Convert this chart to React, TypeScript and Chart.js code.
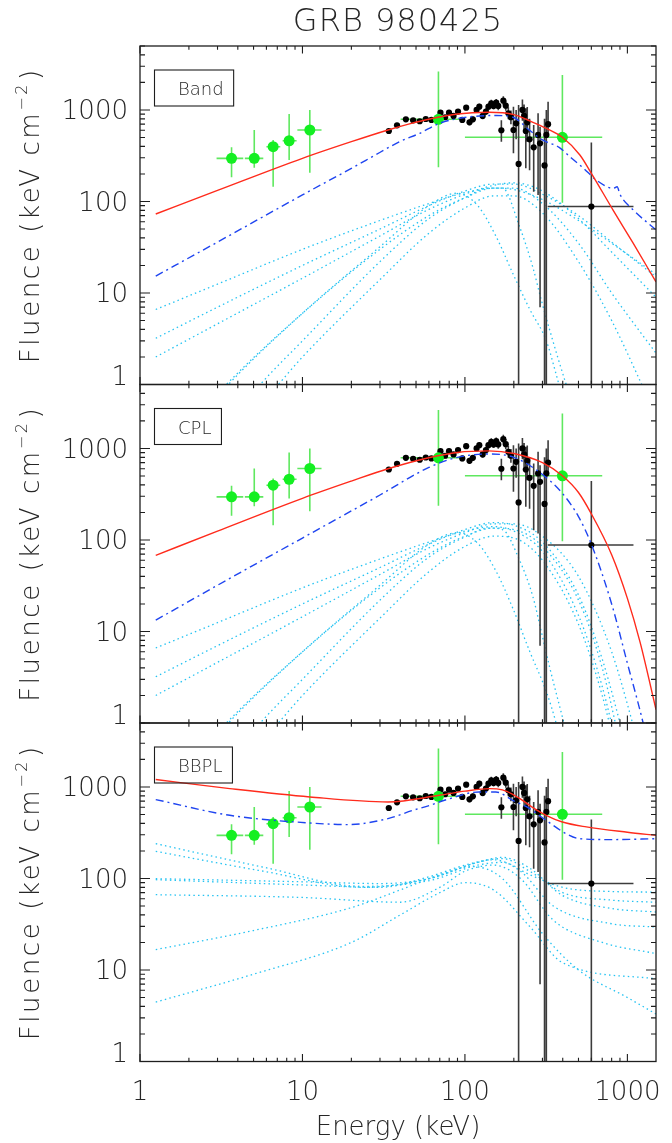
import { useEffect, useRef } from 'react';
import { Chart, registerables } from 'chart.js';

Chart.register(...registerables);

type Pt = [number, number];

// ---- canvas / frame geometry ----
const W = 672;
const H = 1143;
const PLOT_LEFT = 140;
const PLOT_RIGHT = 656;
const PANEL_TOPS = [46, 384.5, 723];
const PANEL_H = 338.5;
const X_MIN = 1;
const X_MAX = 1500;
const Y_MIN = 1;
const Y_MAX = 5000;
const FONT = '"DejaVu Sans", "Liberation Sans", sans-serif';
const TEXT = '#262626';

// ---- axis text ----
const chartTitle = 'GRB 980425';
const xTitle = 'Energy (keV)';
const yTitleMain = 'Fluence (keV cm';
const yTitleSup = '\u22122';
const yTitleEnd = ')';
const xTickValues = [1, 10, 100, 1000];
const xTickLabels = ['1', '10', '100', '1000'];
const yTickValues = [1, 10, 100, 1000];
const yTickLabels = ['1', '10', '100', '1000'];
const panelNames = ['Band', 'CPL', 'BBPL'];

// ---- observed fluence points (green) ----
const greenE = [3.66, 5.05, 6.6, 8.28, 11.1, 68.7, 398];
const greenELo = [2.96, 4.42, 6.0, 7.55, 9.3, 40.2, 100];
const greenEHi = [4.32, 5.74, 7.3, 9.2, 13.1, 97.4, 700];
const greenF = [296, 296, 397, 461, 604, 791, 503];
const greenFLo = [184, 234, 145, 284, 206, 236, 97];
const greenFHi = [391, 604, 470, 904, 1000, 2624, 2414];

// ---- observed fluence points (black) ----
const blackE = [34.0, 38.2, 43.3, 48.0, 52.7, 57.4, 62.2, 70.7, 75.5, 79.8, 85.1, 90.7, 96.3, 101.8, 106.7, 111.9, 118, 122.6, 128.6, 134.7, 139.6, 145.3, 150.1, 155.8, 160.4, 167.6, 172.3, 178.4, 185, 191.9, 198.9, 206.6, 214, 225.9, 231.3, 237, 241.9, 250, 265, 282, 290, 309, 317, 325, 600];
const blackF = [589, 680, 791, 770, 753, 797, 778, 935, 832, 935, 860, 960, 778, 1060, 733, 791, 1000, 1087, 860, 960, 1087, 1183, 1106, 1200, 1106, 600, 1264, 1114, 920, 832, 604, 715, 257, 1000, 860, 589, 733, 478, 391, 533, 432, 248, 533, 700, 88];
const blackFLo = [560, 650, 760, 738, 720, 760, 740, 880, 785, 885, 812, 905, 725, 995, 680, 735, 930, 1010, 790, 880, 1000, 1085, 1010, 1090, 990, 450, 1130, 980, 790, 700, 336, 480, 0.3, 760, 620, 230, 450, 220, 128, 118, 7, 0.3, 0.3, 510, 0.3];
const blackFHi = [620, 712, 825, 803, 790, 835, 818, 995, 880, 990, 912, 1020, 835, 1130, 790, 850, 1075, 1170, 935, 1045, 1180, 1290, 1210, 1320, 1235, 770, 1410, 1265, 1070, 985, 1087, 1000, 1134, 1300, 1150, 1043, 1080, 800, 686, 920, 657, 800, 1000, 1233, 440];
// energy bins drawn for a subset of the black points
const binE = [34.0, 38.2, 43.3, 48.0, 52.7, 57.4, 62.2, 600];
const binF = [589, 680, 791, 770, 753, 797, 778, 88];
const binLo = [32.6, 36.7, 41.6, 46.1, 50.6, 55.1, 59.7, 323];
const binHi = [35.4, 39.7, 45.0, 49.9, 54.8, 59.7, 64.7, 1090];

// ---- Band fits ----
const bandTotal: Pt[] = [[1.25, 73], [3, 132], [10, 296], [20, 450], [33.6, 604], [45, 700], [60.8, 797], [90, 905], [140, 944], [200, 890], [250, 760], [317, 630], [398, 503], [510, 322], [600, 203], [818, 80], [1085, 35], [1500, 13.2]];
const bandSum: Pt[] = [[1.25, 15.3], [3, 36], [10, 118], [20, 230], [29.9, 343], [39.6, 450], [52.7, 556], [69.7, 715], [92.6, 811], [123, 860], [156, 870], [198, 832], [250, 600], [300, 470], [380, 390], [450, 300], [530, 236], [645, 171], [818, 139], [865, 145], [900, 120], [1085, 81], [1500, 49]];
const bandSlices: Pt[][] = [
  [[1.25, 6.6], [3, 12.5], [10, 30], [30, 62], [60, 95], [100, 125], [150, 140], [200, 135], [300, 105], [500, 62], [800, 35], [1500, 16]],
  [[1.25, 3.2], [3, 7], [10, 20], [30, 50], [60, 90], [100, 130], [150, 155], [200, 155], [300, 120], [500, 70], [800, 36], [1500, 15]],
  [[1.25, 2.0], [3, 4.6], [10, 14.5], [30, 42], [60, 82], [100, 120], [150, 150], [200, 160], [300, 130], [500, 65], [800, 28], [1500, 9]],
  [[2.4, 0.5], [3.4, 1], [10, 6], [30, 30], [60, 70], [100, 110], [150, 140], [200, 140], [300, 95], [500, 35], [800, 10], [1500, 2.2]],
  [[5, 0.5], [7.1, 1], [10, 2], [30, 14], [60, 45], [100, 85], [150, 115], [200, 115], [300, 75], [500, 22], [800, 5], [1300, 0.8]],
  [[2.5, 0.5], [3.5, 1], [10, 6], [30, 32], [60, 90], [89, 123], [120, 90], [156, 41], [197, 16.4], [251, 6.6], [317, 3], [364, 1.3], [400, 0.7]],
  [[4, 0.5], [5.5, 1], [10, 3], [30, 22], [60, 65], [100, 110], [140, 140], [170, 140], [217, 53], [262, 19], [295, 8.4], [333, 3.9], [420, 1], [480, 0.5]],
];

// ---- CPL fits ----
const cplTotal: Pt[] = [[1.25, 68], [3, 125], [10, 285], [20, 440], [33.6, 600], [60.8, 797], [90, 905], [140, 940], [200, 880], [300, 700], [398, 503], [500, 330], [600, 193], [800, 69], [1000, 23], [1200, 7.5], [1500, 1.4]];
const cplSum: Pt[] = [[1.25, 13.3], [3, 32], [10, 105], [30, 310], [60, 620], [90, 800], [140, 870], [200, 800], [300, 520], [400, 320], [500, 180], [600, 90], [800, 20], [1000, 4.5], [1250, 1], [1400, 0.4]];
const cplSlices: Pt[][] = [
  [[1.25, 6.6], [3, 12.5], [10, 30], [30, 62], [60, 95], [100, 125], [150, 140], [200, 125], [300, 75], [500, 15], [700, 2.5], [900, 0.4]],
  [[1.25, 3.2], [3, 7], [10, 20], [30, 50], [60, 90], [100, 130], [150, 155], [200, 145], [300, 95], [500, 25], [700, 5], [1000, 0.5]],
  [[1.25, 2.0], [3, 4.6], [10, 14.5], [30, 42], [60, 82], [100, 120], [150, 150], [200, 150], [300, 110], [500, 40], [800, 6], [1200, 0.5]],
  [[2.4, 0.5], [3.4, 1], [10, 6], [30, 30], [60, 70], [100, 110], [150, 135], [200, 130], [300, 85], [500, 22], [700, 4], [900, 0.6]],
  [[5, 0.5], [7.1, 1], [10, 2], [30, 14], [60, 45], [100, 85], [150, 110], [200, 105], [300, 60], [500, 12], [700, 2], [850, 0.5]],
  [[2.5, 0.5], [3.5, 1], [10, 6], [30, 32], [60, 90], [89, 120], [120, 92], [156, 45], [197, 18], [251, 6], [317, 2.2], [364, 1], [400, 0.5]],
  [[4, 0.5], [5.5, 1], [10, 3], [30, 22], [60, 65], [100, 108], [140, 135], [170, 130], [217, 60], [262, 24], [295, 10], [333, 4], [420, 0.8], [480, 0.3]],
];

// ---- BBPL fits ----
const bbplTotal: Pt[] = [[1.25, 1205], [3.57, 960], [11.1, 778], [33.6, 686], [69.7, 811], [100, 900], [142, 960], [170, 930], [197, 832], [218, 746], [262, 595], [316, 490], [398, 414], [559, 366], [1000, 320], [1500, 296]];
const bbplSum: Pt[] = [[1.25, 728], [3.57, 490], [11.1, 404], [19, 388], [33.6, 451], [47.9, 556], [60.8, 630], [77.2, 728], [122, 882], [155, 882], [197, 715], [250, 580], [316, 432], [418, 310], [508, 272], [818, 266], [1500, 272]];
const bbplSlices: Pt[][] = [
  [[1.25, 240], [5.74, 133], [23.6, 82], [60.8, 95], [120, 140], [170, 150], [250, 110], [400, 80], [800, 72], [1500, 71]],
  [[1.25, 198], [5.74, 120], [23.6, 80], [60.8, 100], [120, 150], [170, 165], [250, 120], [400, 70], [800, 58], [1500, 55]],
  [[1.25, 99.5], [10, 92], [30, 88], [60.8, 100], [120, 150], [170, 170], [250, 130], [400, 65], [800, 47], [1500, 43]],
  [[1.25, 97], [10, 85], [30, 80], [60.8, 105], [100, 140], [150, 160], [220, 120], [350, 50], [800, 32], [1500, 29.5]],
  [[1.25, 66.5], [10, 62], [40, 55], [70, 80], [100, 120], [150, 140], [220, 100], [350, 35], [700, 20], [1500, 15.1]],
  [[1.25, 16.7], [5, 27], [20, 48], [40, 75], [70, 110], [110, 135], [170, 100], [300, 25], [500, 10], [1000, 5], [1500, 3.3]],
  [[1.25, 4.46], [5, 9], [20, 20], [40, 40], [70, 70], [100, 90], [150, 75], [250, 30], [400, 12], [1500, 8]],
];

const panels = [
  { name: panelNames[0], total: bandTotal, sum: bandSum, slices: bandSlices },
  { name: panelNames[1], total: cplTotal, sum: cplSum, slices: cplSlices },
  { name: panelNames[2], total: bbplTotal, sum: bbplSum, slices: bbplSlices },
];

// ---- colours ----
const RED = '#ff2b1c';
const BLUE = '#1f45f0';
const CYAN = '#25c3f2';
const GREEN_DOT = '#14ef22';
const GREEN_BAR = '#5fe85f';
const BLACK_DOT = '#000000';
const BLACK_BAR = '#3c3c3c';

type XY = { x: number; y: number | null };

function toXY(pts: Pt[]): XY[] {
  return pts.map(([x, y]) => ({ x, y }));
}

// vertical bars as gap-separated segments
function vBars(e: number[], lo: number[], hi: number[]): XY[] {
  const out: XY[] = [];
  e.forEach((x, i) => {
    out.push({ x, y: lo[i] }, { x, y: hi[i] }, { x, y: null });
  });
  return out;
}

// horizontal bars as gap-separated segments
function hBars(f: number[], lo: number[], hi: number[]): XY[] {
  const out: XY[] = [];
  f.forEach((y, i) => {
    out.push({ x: lo[i], y }, { x: hi[i], y }, { x: hi[i], y: null });
  });
  return out;
}

function lineSet(data: XY[], color: string, width: number, dash: number[], order: number, smooth: boolean) {
  return {
    type: 'line' as const,
    data,
    borderColor: color,
    backgroundColor: color,
    borderWidth: width,
    borderDash: dash,
    borderCapStyle: 'butt' as const,
    pointRadius: 0,
    pointHoverRadius: 0,
    fill: false,
    spanGaps: false,
    showLine: true,
    cubicInterpolationMode: smooth ? ('monotone' as const) : ('default' as const),
    tension: 0,
    order,
  };
}

function pointSet(data: XY[], color: string, radius: number, order: number) {
  return {
    type: 'line' as const,
    data,
    showLine: false,
    pointRadius: radius,
    pointHoverRadius: radius,
    pointBackgroundColor: color,
    pointBorderColor: color,
    pointBorderWidth: 0,
    borderColor: color,
    backgroundColor: color,
    order,
  };
}

function buildDatasets(p: (typeof panels)[number]) {
  const sets: any[] = [];
  sets.push(lineSet(toXY(p.total), RED, 1.4, [], 0, true));
  sets.push(lineSet(toXY(p.sum), BLUE, 1.4, [8, 4, 2, 4], 1, true));
  sets.push(pointSet(greenE.map((x, i) => ({ x, y: greenF[i] })), GREEN_DOT, 5.5, 2));
  sets.push(pointSet(blackE.map((x, i) => ({ x, y: blackF[i] })), BLACK_DOT, 3.1, 3));
  sets.push(lineSet(vBars(blackE, blackFLo, blackFHi), BLACK_BAR, 1.6, [], 4, false));
  sets.push(lineSet(hBars(binF, binLo, binHi), BLACK_BAR, 1.6, [], 4, false));
  sets.push(lineSet(vBars(greenE, greenFLo, greenFHi), GREEN_BAR, 1.6, [], 5, false));
  sets.push(lineSet(hBars(greenF, greenELo, greenEHi), GREEN_BAR, 1.6, [], 5, false));
  p.slices.forEach((s) => sets.push(lineSet(toXY(s), CYAN, 1.3, [1.5, 3.2], 6, true)));
  return sets;
}

// Frame, inward ticks and all axis text in the IDL style
const frameAxes = {
  id: 'frameAxes',
  afterDraw(chart: any, _args: any, opts: any) {
    const { ctx, chartArea: a, scales } = chart;
    const xs = scales.x;
    const ys = scales.y;
    ctx.save();
    ctx.strokeStyle = '#1e1e1e';
    ctx.lineWidth = 1.3;
    ctx.strokeRect(a.left, a.top, a.right - a.left, a.bottom - a.top);

    ctx.lineWidth = 1.1;
    ctx.beginPath();
    for (let d = 0; d <= 3; d++) {
      for (let k = 1; k <= 9; k++) {
        const v = k * Math.pow(10, d);
        if (v < Y_MIN || v > Y_MAX) continue;
        const py = ys.getPixelForValue(v);
        const len = k === 1 ? 10 : 5;
        ctx.moveTo(a.left, py);
        ctx.lineTo(a.left + len, py);
        ctx.moveTo(a.right, py);
        ctx.lineTo(a.right - len, py);
      }
    }
    for (let d = 0; d <= 3; d++) {
      for (let k = 1; k <= 9; k++) {
        const v = k * Math.pow(10, d);
        if (v < X_MIN || v > X_MAX) continue;
        const px = xs.getPixelForValue(v);
        const len = k === 1 ? 7.5 : 3.8;
        ctx.moveTo(px, a.bottom);
        ctx.lineTo(px, a.bottom - len);
        ctx.moveTo(px, a.top);
        ctx.lineTo(px, a.top + len);
      }
    }
    ctx.stroke();

    ctx.fillStyle = TEXT;
    const tickFont = `200 26px ${FONT}`;
    ctx.font = tickFont;
    ctx.textAlign = 'right';
    ctx.textBaseline = 'alphabetic';
    yTickValues.forEach((v, i) => {
      const py = ys.getPixelForValue(v);
      const base = v === Y_MIN ? py + 0.5 : py + 9.5;
      ctx.fillText(yTickLabels[i], PLOT_LEFT - 12, base);
    });

    // rotated y title with a raised exponent
    const cy = (a.top + a.bottom) / 2;
    ctx.save();
    ctx.translate(38.5, cy);
    ctx.rotate(-Math.PI / 2);
    ctx.textAlign = 'left';
    ctx.letterSpacing = '2.6px';
    ctx.font = `200 26px ${FONT}`;
    const w1 = ctx.measureText(yTitleMain).width;
    ctx.font = `200 16px ${FONT}`;
    const w2 = ctx.measureText(yTitleSup).width;
    ctx.font = `200 26px ${FONT}`;
    const w3 = ctx.measureText(yTitleEnd).width;
    const total = w1 + w2 + 2 + w3;
    let x0 = -total / 2;
    ctx.fillText(yTitleMain, x0, 0);
    x0 += w1;
    ctx.font = `200 16px ${FONT}`;
    ctx.fillText(yTitleSup, x0, -12);
    x0 += w2 + 2;
    ctx.font = `200 26px ${FONT}`;
    ctx.fillText(yTitleEnd, x0, 0);
    ctx.restore();

    // model label box
    ctx.font = `200 18px ${FONT}`;
    ctx.textAlign = 'left';
    const tw = ctx.measureText(opts.label).width;
    const bx = a.left + 14.5;
    const by = a.top + 24;
    ctx.lineWidth = 1.1;
    ctx.strokeStyle = '#1e1e1e';
    ctx.strokeRect(bx, by, 178 - bx + tw + 10, 36);
    ctx.fillText(opts.label, 178, a.top + 49);

    if (opts.showTitle) {
      ctx.save();
      ctx.letterSpacing = '1px';
      ctx.font = `200 32px ${FONT}`;
      ctx.textAlign = 'center';
      ctx.fillText(chartTitle, (a.left + a.right) / 2, 31);
      ctx.restore();
    }
    if (opts.showX) {
      ctx.font = tickFont;
      ctx.textAlign = 'center';
      xTickValues.forEach((v, i) => {
        ctx.fillText(xTickLabels[i], xs.getPixelForValue(v), a.bottom + 38.5);
      });
      ctx.fillText(xTitle, (a.left + a.right) / 2, a.bottom + 73.5);
    }
    ctx.restore();
  },
};

function Panel({ index }: { index: number }) {
  const ref = useRef<HTMLCanvasElement | null>(null);
  useEffect(() => {
    const canvas = ref.current;
    if (!canvas) return;
    const p = panels[index];
    const top = PANEL_TOPS[index];
    const chart = new Chart(canvas, {
      type: 'line',
      data: { datasets: buildDatasets(p) },
      options: {
        responsive: false,
        animation: false,
        events: [],
        layout: {
          padding: { left: 0, right: W - PLOT_RIGHT, top, bottom: H - (top + PANEL_H) },
        },
        plugins: {
          legend: { display: false },
          tooltip: { enabled: false },
          title: { display: false },
          frameAxes: { label: p.name, showTitle: index === 0, showX: index === 2 },
        } as any,
        scales: {
          x: {
            type: 'logarithmic',
            min: X_MIN,
            max: X_MAX,
            ticks: { display: false },
            grid: { display: false },
            border: { display: false },
            afterFit: (s: any) => {
              s.height = 0;
            },
          },
          y: {
            type: 'logarithmic',
            min: Y_MIN,
            max: Y_MAX,
            ticks: { display: false },
            grid: { display: false },
            border: { display: false },
            afterFit: (s: any) => {
              s.width = PLOT_LEFT;
            },
          },
        },
      },
      plugins: [frameAxes],
    });
    return () => chart.destroy();
  }, [index]);
  return (
    <canvas
      ref={ref}
      width={W}
      height={H}
      style={{ position: 'absolute', left: 0, top: 0, width: W, height: H }}
    />
  );
}

export default function App() {
  return (
    <div style={{ position: 'absolute', left: 0, top: 0, width: W, height: H, background: '#fff' }}>
      <Panel index={0} />
      <Panel index={1} />
      <Panel index={2} />
    </div>
  );
}
